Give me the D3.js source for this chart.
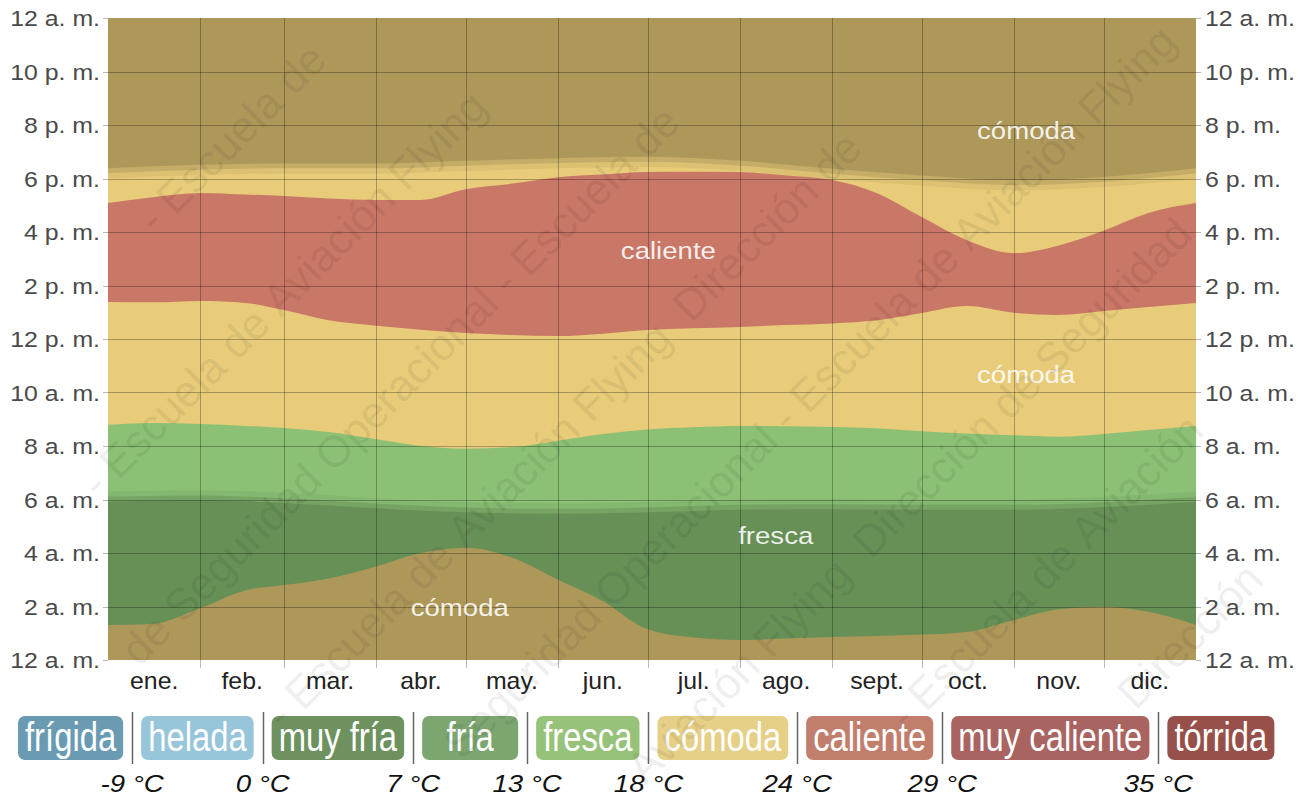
<!DOCTYPE html>
<html><head><meta charset="utf-8">
<script src="https://cdn.jsdelivr.net/npm/d3@7"></script>
<style>
html,body{margin:0;padding:0;background:#fff;}
svg{display:block;font-family:"Liberation Sans",Arial,Helvetica,sans-serif;}
</style></head><body>
<svg id="chart" width="1305" height="798"></svg>
<script>
// ---------- data ----------
const days = [0,15,31,46,59,74,90,105,120,135,151,166,181,196,212,227,243,258,273,288,304,319,334,349,365];
// hour of day at which each temperature band starts / ends
const frescaStart   = [1.31,1.35,1.94,2.6,2.8,3.05,3.5,4.0,4.2,3.85,3.0,2.2,1.15,0.85,0.75,0.8,0.86,0.9,0.95,1.05,1.5,1.9,1.98,1.8,1.31];
const frescaEnd     = [8.79,8.86,8.82,8.75,8.67,8.52,8.25,8.0,7.9,7.95,8.2,8.45,8.62,8.7,8.75,8.74,8.71,8.66,8.55,8.47,8.4,8.35,8.45,8.6,8.75];
const calienteStart = [13.38,13.37,13.42,13.35,13.08,12.7,12.5,12.35,12.22,12.15,12.11,12.2,12.34,12.4,12.45,12.52,12.58,12.7,12.97,13.23,12.98,12.9,13.05,13.2,13.35];
const calienteEnd   = [17.08,17.3,17.46,17.4,17.35,17.25,17.2,17.2,17.6,17.8,18.05,18.15,18.24,18.25,18.24,18.12,17.94,17.45,16.56,15.7,15.21,15.5,16.05,16.71,17.08];

const sunDays = [0,31,59,90,120,151,181,212,243,273,304,334,365];
const sunrise = [6.3,6.35,6.25,6.05,5.9,5.85,5.9,6.0,6.02,6.0,6.0,6.1,6.3];
const sunset  = [18.0,18.13,18.18,18.18,18.28,18.38,18.43,18.28,17.98,17.73,17.55,17.68,18.0];
const twilightSteps = [0, 0.2, 0.38];
const twilightOpacity = [0.05, 0.1, 0.12];

const months = ["ene.","feb.","mar.","abr.","may.","jun.","jul.","ago.","sept.","oct.","nov.","dic."];
const monthStarts = [0,31,59,90,120,151,181,212,243,273,304,334,365];
const hourTicks = [0,2,4,6,8,10,12,14,16,18,20,22,24];
const hourLabels = ["12 a. m.","2 a. m.","4 a. m.","6 a. m.","8 a. m.","10 a. m.","12 p. m.","2 p. m.","4 p. m.","6 p. m.","8 p. m.","10 p. m.","12 a. m."];

const bandLabelText = ["cómoda","caliente","cómoda","fresca","cómoda"];
const bandLabelDay  = [308, 188, 308, 224, 118];
const bandLabelHour = [19.78, 15.29, 10.65, 4.64, 1.94];

const categories = ["frígida","helada","muy fría","fría","fresca","cómoda","caliente","muy caliente","tórrida"];
const categoryColors = ["#6a9bb3","#97c5da","#6d915f","#7ba670","#97c279","#e6cf86","#c27e6c","#a96461","#974f4a"];
const thresholds = ["-9 °C","0 °C","7 °C","13 °C","18 °C","24 °C","29 °C","35 °C"];

const plotColors = {comoda:"#e8cc7a", fresca:"#8cc175", caliente:"#c97766"};

const watermarkText = "Dirección de Seguridad Operacional - Escuela de Aviación Flying";
const watermarkLines = [183,391,599,807,1015,1223,1431,1639,1847];
const watermarkPhase = [138,520,293,726,260,827,220,700,300];

// ---------- layout ----------
const W = 1305, H = 798;
const svg = d3.select("#chart");
const L = 108, R = 1196, T = 18, B = 660;
const x = d3.scaleLinear().domain([0,365]).range([L,R]);
const y = d3.scaleLinear().domain([0,24]).range([B,T]);
const curve = d3.curveMonotoneX;

const clip = svg.append("defs").append("clipPath").attr("id","plotclip");
clip.append("rect").attr("x",L).attr("y",T).attr("width",R-L).attr("height",B-T);

const plot = svg.append("g").attr("clip-path","url(#plotclip)");
plot.append("rect").attr("x",L).attr("y",T).attr("width",R-L).attr("height",B-T).attr("fill",plotColors.comoda);

const bandArea = (lo, hi) => d3.area().curve(curve)
  .x((d,i)=>x(days[i])).y0((d,i)=>y(lo[i])).y1((d,i)=>y(hi[i]));
plot.append("path").datum(days).attr("d", bandArea(frescaStart, frescaEnd)).attr("fill", plotColors.fresca);
plot.append("path").datum(days).attr("d", bandArea(calienteStart, calienteEnd)).attr("fill", plotColors.caliente);

// night / twilight overlays
twilightSteps.forEach((s, k) => {
  const eve = d3.area().curve(curve).x((d,i)=>x(sunDays[i])).y0((d,i)=>y(sunset[i]+s)).y1(()=>y(24));
  const morn = d3.area().curve(curve).x((d,i)=>x(sunDays[i])).y0(()=>y(0)).y1((d,i)=>y(sunrise[i]-s));
  plot.append("path").datum(sunDays).attr("d", eve).attr("fill","#000").attr("fill-opacity", twilightOpacity[k]);
  plot.append("path").datum(sunDays).attr("d", morn).attr("fill","#000").attr("fill-opacity", twilightOpacity[k]);
});

// grid
const grid = svg.append("g").attr("stroke","#000").attr("stroke-opacity",0.28).attr("stroke-width",1);
monthStarts.slice(1,-1).forEach(d => {
  const xx = Math.round(x(d)) + 0.5;
  grid.append("line").attr("x1",xx).attr("x2",xx).attr("y1",T).attr("y2",B+8);
});
hourTicks.forEach(h => {
  const yy = Math.round(y(h)) + 0.5;
  if (h === 0 || h === 24) {
    grid.append("line").attr("x1",L-5).attr("x2",L).attr("y1",yy).attr("y2",yy);
    grid.append("line").attr("x1",R).attr("x2",R+5).attr("y1",yy).attr("y2",yy);
  } else {
    grid.append("line").attr("x1",L-5).attr("x2",R+5).attr("y1",yy).attr("y2",yy);
  }
});

function stext(g, str, px, py, size, sx, anchor, fill, extra) {
  const t = g.append("text").attr("transform",`translate(${px},${py}) scale(${sx},1)`)
    .attr("text-anchor",anchor).attr("font-size",size).attr("fill",fill).text(str);
  if (extra) extra(t);
  return t;
}

// band labels
const bl = svg.append("g");
bandLabelText.forEach((t,i) => {
  stext(bl, t, x(bandLabelDay[i]), y(bandLabelHour[i]) + 8, 24, 1.15, "middle", "#fff", s=>s.attr("fill-opacity",0.88));
});

// axis labels
const ax = svg.append("g");
hourTicks.forEach((h,i) => {
  stext(ax, hourLabels[i], L-8, y(h)+8, 22, 1.13, "end", "#4a4a4a");
  stext(ax, hourLabels[i], R+9, y(h)+8, 22, 1.13, "start", "#4a4a4a");
});
months.forEach((m,i) => {
  stext(ax, m, x((monthStarts[i]+monthStarts[i+1])/2), B+29, 23, 1.08, "middle", "#222");
});

// legend
const lg = svg.append("g");
let cx = 18;
const boxTop = 716, boxH = 44, gap = 18;
const seps = [];
categories.forEach((c,i) => {
  const t = lg.append("text").attr("font-size",40).attr("fill","#fff").text(c);
  const tw = t.node().getComputedTextLength() * 0.82;
  const bw = Math.max(tw + 14, 96);
  lg.insert("rect","text").attr("x",cx).attr("y",boxTop).attr("width",bw).attr("height",boxH)
    .attr("rx",7).attr("fill",categoryColors[i]);
  t.attr("text-anchor","middle").attr("transform",`translate(${cx+bw/2},${boxTop+35}) scale(0.82,1)`);
  cx += bw;
  if (i < categories.length-1) { seps.push(cx + gap/2); cx += gap; }
});
seps.forEach((sx,i) => {
  lg.append("line").attr("x1",Math.round(sx)+0.5).attr("x2",Math.round(sx)+0.5).attr("y1",712).attr("y2",764)
    .attr("stroke","#666").attr("stroke-width",1.5);
  stext(lg, thresholds[i], sx, 792, 24, 1.15, "middle", "#111", s=>s.attr("font-style","italic"));
});

// watermark: words laid along diagonal lines, keeping only words fully inside the page
const WM_SIZE = 44;
const wm = svg.append("g").attr("transform","rotate(-45)").attr("fill","#000").attr("fill-opacity",0.085)
  .attr("font-size",WM_SIZE).style("pointer-events","none");
const words = watermarkText.split(" ");
const measure = s => { const p = wm.append("text").text(s); const w = p.node().getComputedTextLength(); p.remove(); return w; };
const spaceW = measure("a a") - measure("aa");
const wordW = words.map(measure);
const cycle = d3.sum(wordW) + spaceW * words.length + 12;
const asc = WM_SIZE * 0.76, desc = WM_SIZE * 0.22, M = 2;
const inside = (u0, u1, v) => {
  const pts = [[u0,v-asc],[u1,v-asc],[u0,v+desc],[u1,v+desc]].map(([u,vv]) => [(u+vv)/Math.SQRT2, (vv-u)/Math.SQRT2]);
  return pts.every(([px,py]) => px >= M && px <= W-M && py >= M && py <= H-M);
};
watermarkLines.forEach((c,i) => {
  const v = c/Math.SQRT2;
  for (let k=-3; k<=3; k++) {
    let u = watermarkPhase[i] + k*cycle;
    words.forEach((wd, j) => {
      if (inside(u, u + wordW[j], v)) wm.append("text").attr("x", u).attr("y", v).text(wd);
      u += wordW[j] + spaceW;
    });
  }
});
</script>
</body></html>
